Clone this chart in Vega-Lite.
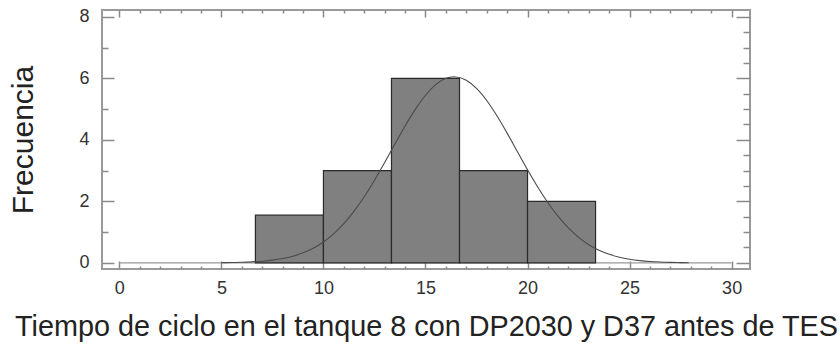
{
  "$schema": "https://vega.github.io/schema/vega-lite/v6.json",
  "width": 648,
  "height": 259,
  "autosize": {"type": "none"},
  "padding": {"left": 102, "top": 10, "right": 89, "bottom": 75},
  "background": "white",
  "config": {
    "view": {"stroke": "#9a9a9a", "strokeWidth": 2},
    "font": "Liberation Sans",
    "axis": {"labelFont": "Liberation Sans", "titleFont": "Liberation Sans", "grid": false, "domain": false, "tickColor": "#8a8a8a", "tickWidth": 1.5, "labelOverlap": false, "tickCount": 100}
  },
  "datasets": {
    "bars": [
      {"bin_start": 6.667, "bin_end": 10.0, "count": 1.55},
      {"bin_start": 10.0, "bin_end": 13.333, "count": 3},
      {"bin_start": 13.333, "bin_end": 16.667, "count": 6},
      {"bin_start": 16.667, "bin_end": 20.0, "count": 3},
      {"bin_start": 20.0, "bin_end": 23.333, "count": 2}
    ],
    "curve": [
      {"t": 5.0, "f": 0.006}, {"t": 5.5, "f": 0.011}, {"t": 6.0, "f": 0.019}, {"t": 6.5, "f": 0.032},
      {"t": 7.0, "f": 0.054}, {"t": 7.5, "f": 0.088}, {"t": 8.0, "f": 0.140}, {"t": 8.5, "f": 0.216},
      {"t": 9.0, "f": 0.325}, {"t": 9.5, "f": 0.476}, {"t": 10.0, "f": 0.679}, {"t": 10.5, "f": 0.943},
      {"t": 11.0, "f": 1.275}, {"t": 11.5, "f": 1.679}, {"t": 12.0, "f": 2.151}, {"t": 12.5, "f": 2.686},
      {"t": 13.0, "f": 3.264}, {"t": 13.5, "f": 3.861}, {"t": 14.0, "f": 4.449}, {"t": 14.5, "f": 4.989},
      {"t": 15.0, "f": 5.449}, {"t": 15.5, "f": 5.794}, {"t": 16.0, "f": 5.999}, {"t": 16.4, "f": 6.05},
      {"t": 17.0, "f": 5.935}, {"t": 17.5, "f": 5.671}, {"t": 18.0, "f": 5.277}, {"t": 18.5, "f": 4.781},
      {"t": 19.0, "f": 4.217}, {"t": 19.5, "f": 3.621}, {"t": 20.0, "f": 3.029}, {"t": 20.5, "f": 2.466},
      {"t": 21.0, "f": 1.955}, {"t": 21.5, "f": 1.509}, {"t": 22.0, "f": 1.134}, {"t": 22.5, "f": 0.829},
      {"t": 23.0, "f": 0.591}, {"t": 23.5, "f": 0.410}, {"t": 24.0, "f": 0.277}, {"t": 24.5, "f": 0.182},
      {"t": 25.0, "f": 0.117}, {"t": 25.5, "f": 0.073}, {"t": 26.0, "f": 0.044}, {"t": 26.5, "f": 0.026},
      {"t": 27.0, "f": 0.015}, {"t": 27.5, "f": 0.008}, {"t": 27.9, "f": 0.005}
    ],
    "baseline": [{"x0": 0, "x1": 30, "y": 0}]
  },
  "layer": [
    {
      "layer": [
        {
          "data": {"name": "baseline"},
          "mark": {"type": "rule", "color": "#9a9a9a", "strokeWidth": 1.2},
          "encoding": {
            "x": {"field": "x0", "type": "quantitative", "scale": {"domain": [-0.85, 30.9], "nice": false, "zero": false},
              "axis": {
                "orient": "bottom",
                "values": [0,1,2,3,4,5,6,7,8,9,10,11,12,13,14,15,16,17,18,19,20,21,22,23,24,25,26,27,28,29,30],
                "tickCount": 100,
                "format": "d",
                "labelExpr": "datum.value % 5 === 0 ? datum.label : ''",
                "labelOverlap": false,
                "labelBound": false,
                "labelFlush": false,
                "tickSize": {"condition": {"test": "datum.value % 5 === 0", "value": -8}, "value": -3},
                "labelPadding": 18,
                "labelFontSize": 18,
                "labelColor": "#333333",
                "title": "Tiempo de ciclo en el tanque 8 con DP2030 y D37 antes de TES",
                "titleFontSize": 28.8,
                "titleFontWeight": "normal",
                "titleColor": "#222222",
                "titleBaseline": "alphabetic",
                "titleY": 66
              }},
            "x2": {"field": "x1"},
            "y": {"field": "y", "type": "quantitative", "scale": {"domain": [-0.2, 8.22], "nice": false, "zero": false},
              "axis": {
                "orient": "left",
                "values": [0,0.5,1,1.5,2,2.5,3,3.5,4,4.5,5,5.5,6,6.5,7,7.5,8],
                "tickCount": 100,
                "format": "d",
                "labelExpr": "datum.value % 2 === 0 ? datum.label : ''",
                "labelOverlap": false,
                "tickSize": {"condition": {"test": "datum.value % 2 === 0", "value": -12}, "value": -6},
                "labelPadding": 25,
                "labelFontSize": 18,
                "labelColor": "#333333",
                "title": "Frecuencia",
                "titleFontSize": 30,
                "titleFontWeight": "normal",
                "titleColor": "#222222",
                "titleBaseline": "alphabetic",
                "titleX": -70
              }}
          }
        },
        {
          "data": {"name": "bars"},
          "mark": {"type": "rect", "fill": "#808080", "stroke": "#2a2a2a", "strokeWidth": 1.2},
          "encoding": {
            "x": {"field": "bin_start", "type": "quantitative"},
            "x2": {"field": "bin_end"},
            "y": {"field": "count", "type": "quantitative"},
            "y2": {"datum": 0}
          }
        },
        {
          "data": {"name": "curve"},
          "mark": {"type": "line", "color": "#4a4a4a", "strokeWidth": 1.1, "interpolate": "monotone"},
          "encoding": {
            "x": {"field": "t", "type": "quantitative"},
            "y": {"field": "f", "type": "quantitative"}
          }
        }
      ]
    },
    {
      "data": {"name": "curve"},
      "mark": {"type": "line", "opacity": 0},
      "encoding": {
        "x": {"field": "t", "type": "quantitative", "scale": {"domain": [-0.85, 30.9], "nice": false, "zero": false},
          "axis": {
            "orient": "top",
            "values": [0,1,2,3,4,5,6,7,8,9,10,11,12,13,14,15,16,17,18,19,20,21,22,23,24,25,26,27,28,29,30],
            "tickCount": 100,
            "labels": false,
            "title": null,
            "tickSize": {"condition": {"test": "datum.value % 5 === 0", "value": -7}, "value": -3}
          }},
        "y": {"field": "f", "type": "quantitative", "scale": {"domain": [-0.2, 8.22], "nice": false, "zero": false},
          "axis": {
            "orient": "right",
            "values": [0,0.5,1,1.5,2,2.5,3,3.5,4,4.5,5,5.5,6,6.5,7,7.5,8],
            "tickCount": 100,
            "labels": false,
            "title": null,
            "tickSize": {"condition": {"test": "datum.value % 2 === 0", "value": -14}, "value": -7}
          }}
      }
    }
  ],
  "resolve": {"scale": {"x": "independent", "y": "independent"}}
}
